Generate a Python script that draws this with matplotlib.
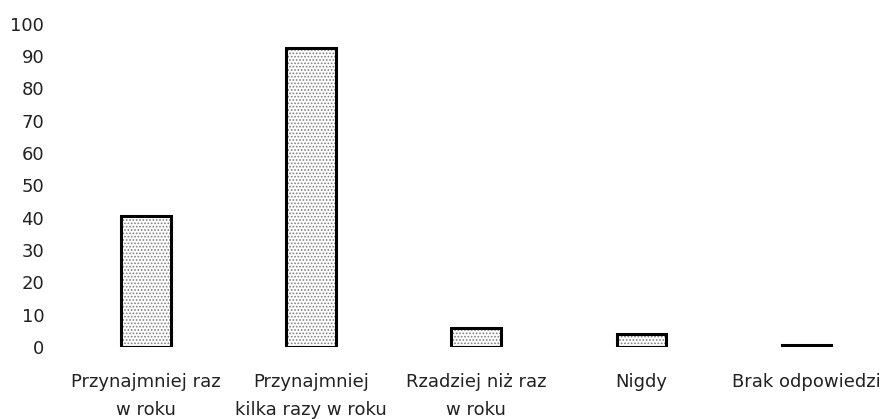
import matplotlib.pyplot as plt

#==Dane==#
kategorie = ["Przynajmniej raz\nw roku", "Przynajmniej\nkilka razy w roku",
             "Rzadziej niż raz\nw roku", "Nigdy", "Brak odpowiedzi"]
wartosci = [40.5, 92.5, 6, 4, 0.5]
yticks = list(range(0, 101, 10))

plt.rcParams['font.family'] = ['DejaVu Sans']
plt.rcParams['hatch.color'] = '#7f7f7f'
plt.rcParams['hatch.linewidth'] = 0.8

#==Wykres==#
fig = plt.figure(figsize=(8.96, 4.19), dpi=100)
ax = fig.add_axes([0.071, 0.172, 0.921, 0.771])

x = range(len(kategorie))
# wypełnienie kropkowane
ax.bar(x, wartosci, width=0.3, color='white', hatch='.....', linewidth=0)
# obramowanie
ax.bar(x, wartosci, width=0.3, fill=False, edgecolor='black', linewidth=2.2)

ax.set_xlim(-0.5, len(kategorie) - 0.5)
ax.set_ylim(0, 100)
ax.set_yticks(yticks)
ax.set_xticks(list(x))
ax.set_xticklabels(kategorie, fontsize=13, linespacing=1.7, color='#222222')
ax.tick_params(axis='y', labelsize=13, length=0, pad=14, labelcolor='#222222')
ax.tick_params(axis='x', length=0, pad=19)
for s in ax.spines.values():
    s.set_visible(False)

fig.savefig('out.png', dpi=100)
